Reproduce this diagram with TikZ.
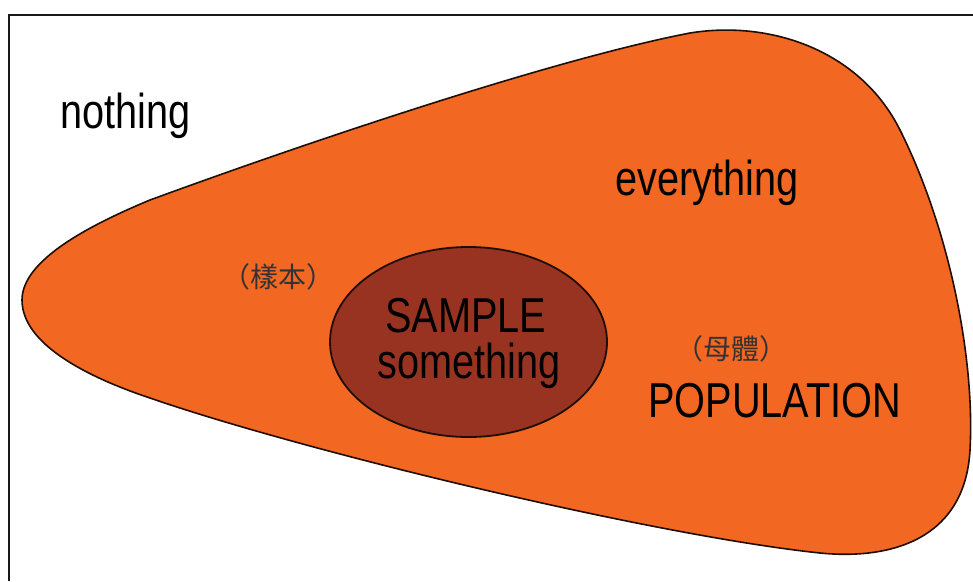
\documentclass[tikz,border=0pt]{standalone}
\usepackage{fontspec}
\newfontfamily\lblfont{Liberation Sans}[FakeStretch=0.81]
\newfontfamily\cjk{Noto Sans CJK TC}
\usetikzlibrary{shapes.geometric}
\definecolor{popfill}{HTML}{F26722}
\definecolor{samplefill}{HTML}{973320}
\definecolor{edge}{HTML}{1E0E06}
\begin{document}
\begin{tikzpicture}[x=1pt, y=-1pt,
	word/.style={anchor=base west, inner sep=0pt, font=\lblfont\fontsize{49}{55}\selectfont},
	zh/.style={anchor=center, inner sep=0pt, text=black!80, font=\cjk\fontsize{28}{30}\selectfont}]
	\useasboundingbox (0,0) rectangle (973,581);
	\draw[black!90, line width=2.2pt] (9,581) |- (973,15);
	% population
	\draw[edge, line width=1.6pt, fill=popfill] (22,300) .. controls (22,260) and (90,225) .. (150,200)
		.. controls (300,145) and (550,60) .. (690,33)
		.. controls (770,20) and (860,50) .. (900,130)
		.. controls (950,230) and (975,360) .. (970,450)
		.. controls (965,540) and (890,560) .. (820,553)
		.. controls (650,535) and (300,450) .. (150,398)
		.. controls (90,378) and (22,345) .. (22,300) -- cycle;
	% sample
	\node[ellipse, draw=edge, line width=1.8pt, fill=samplefill, minimum width=277pt, minimum height=190pt, inner sep=0pt] (sample) at (468.5,342) {};
	\node[word] (nothing) at (60,128) {nothing};
	\node[word] (everything) at (615,195) {everything};
	\node[word] (population) at (648,417) {POPULATION};
	\node[word] (sampleup) at (385,332) {SAMPLE};
	\node[word] (something) at (377,378) {something};
	\node[zh] (yangben) at (278,277) {（樣本）};
	\node[zh] (muti) at (731,349) {（母體）};
\end{tikzpicture}
\end{document}
